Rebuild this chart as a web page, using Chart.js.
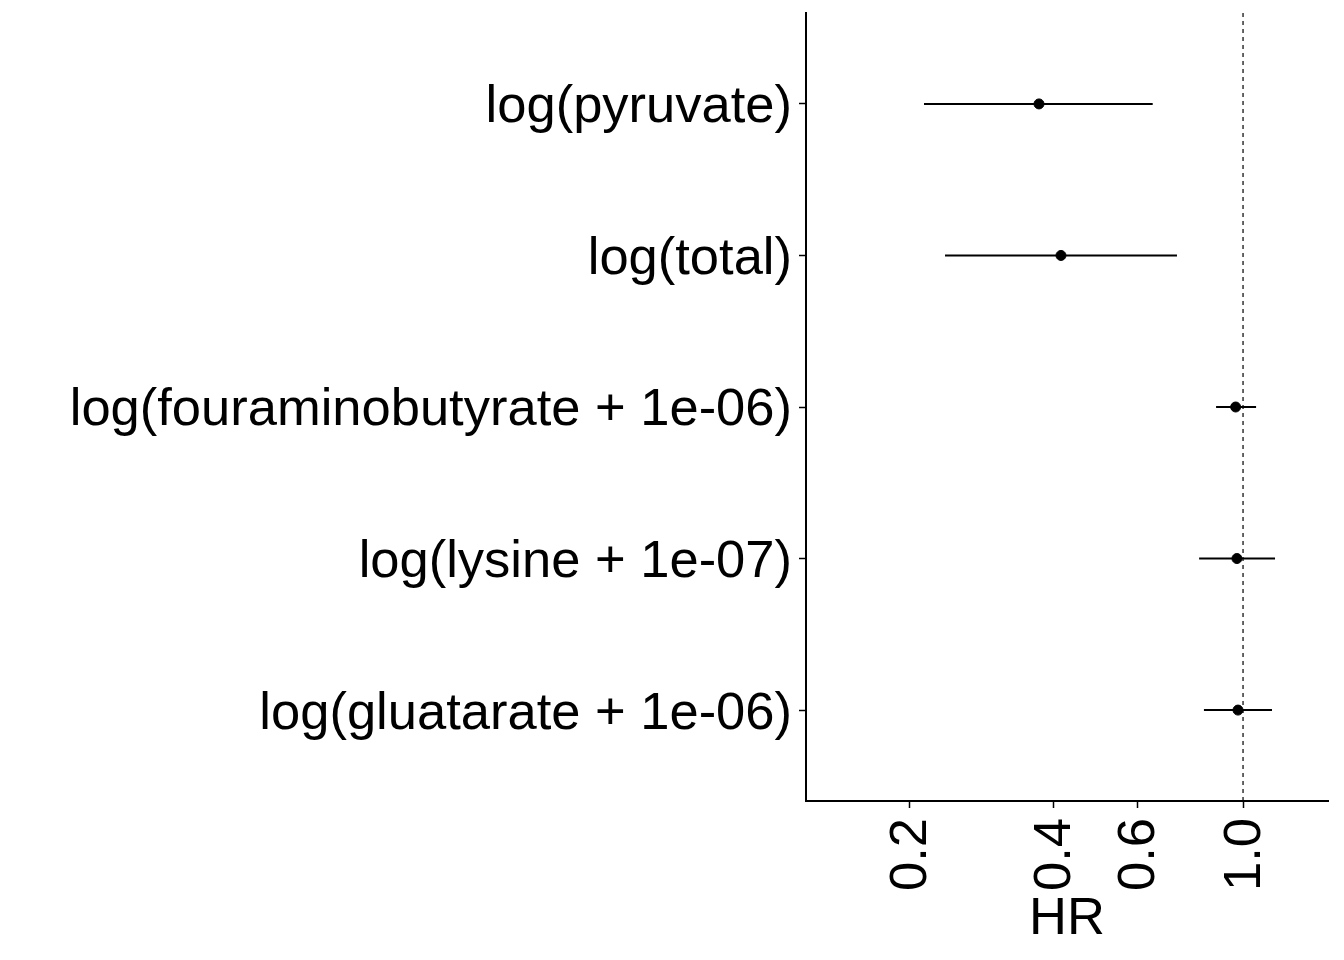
<!DOCTYPE html>
<html>
<head>
<meta charset="utf-8">
<script src="https://cdn.jsdelivr.net/npm/chart.js@4/dist/chart.umd.min.js"></script>
<style>
html,body{margin:0;padding:0;background:#fff;}
#wrap{width:1344px;height:960px;}
</style>
</head>
<body>
<div id="wrap"><canvas id="c" width="1344" height="960"></canvas></div>
<script>
const categories = ["log(pyruvate)", "log(total)", "log(fouraminobutyrate + 1e-06)", "log(lysine + 1e-07)", "log(gluatarate + 1e-06)"];
const hr    = [0.3735, 0.4153, 0.965, 0.971, 0.976];
const lower = [0.2144, 0.2373, 0.878, 0.809, 0.828];
const upper = [0.6466, 0.727, 1.065, 1.167, 1.150];
const xTicks = [0.2, 0.4, 0.6, 1.0];
const refLine = 1.0;

const FONT = "'Liberation Sans', Arial, sans-serif";

const datasets = [];
datasets.push({
  type: 'line',
  data: [{x: refLine, y: 0.4}, {x: refLine, y: 5.6}],
  borderColor: '#000', borderWidth: 1.2, borderDash: [4, 4],
  pointRadius: 0, fill: false
});
categories.forEach((c, i) => {
  datasets.push({
    type: 'line',
    data: [{x: lower[i], y: i + 1}, {x: upper[i], y: i + 1}],
    borderColor: '#000', borderWidth: 2, pointRadius: 0, fill: false
  });
});
datasets.push({
  type: 'scatter',
  data: hr.map((v, i) => ({x: v, y: i + 1})),
  backgroundColor: '#000', borderColor: '#000',
  pointRadius: 5, pointStyle: 'circle'
});

new Chart(document.getElementById('c'), {
  data: {datasets},
  options: {
    responsive: false,
    animation: false,
    devicePixelRatio: 1,
    layout: {padding: {top: 13, right: 16, left: 0, bottom: 0}},
    plugins: {legend: {display: false}, tooltip: {enabled: false}},
    scales: {
      x: {
        type: 'logarithmic',
        min: 0.1213, max: 1.507,
        afterBuildTicks: (s) => { s.ticks = xTicks.map(v => ({value: v})); },
        afterFit: (s) => { s.height = 159; s.paddingLeft = 0; s.paddingRight = 0; },
        ticks: {
          autoSkip: false, minRotation: 90, maxRotation: 90,
          color: '#000', padding: 10, labelOffset: 2,
          font: {family: FONT, size: 52.5},
          callback: (v) => Number(v).toFixed(1)
        },
        grid: {display: true, drawOnChartArea: false, drawTicks: true, tickLength: 7, tickColor: '#000', tickWidth: 1.5},
        border: {display: true, color: '#000', width: 2},
        title: {display: true, text: 'HR', color: '#000', font: {family: FONT, size: 52.5}, padding: {top: 0, bottom: 9}}
      },
      y: {
        type: 'linear',
        min: 0.4, max: 5.6, reverse: true,
        afterBuildTicks: (s) => { s.ticks = categories.map((c, i) => ({value: i + 1})); },
        afterFit: (s) => { s.width = 806; s.paddingTop = 0; s.paddingBottom = 0; },
        ticks: {
          autoSkip: false, color: '#000', padding: 7, labelOffset: 4,
          font: {family: FONT, size: 52.5},
          callback: (v) => categories[Math.round(v) - 1] || ''
        },
        grid: {display: true, drawOnChartArea: false, drawTicks: true, tickLength: 7, tickColor: '#000', tickWidth: 1.5},
        border: {display: true, color: '#000', width: 2}
      }
    }
  }
});
</script>
</body>
</html>
